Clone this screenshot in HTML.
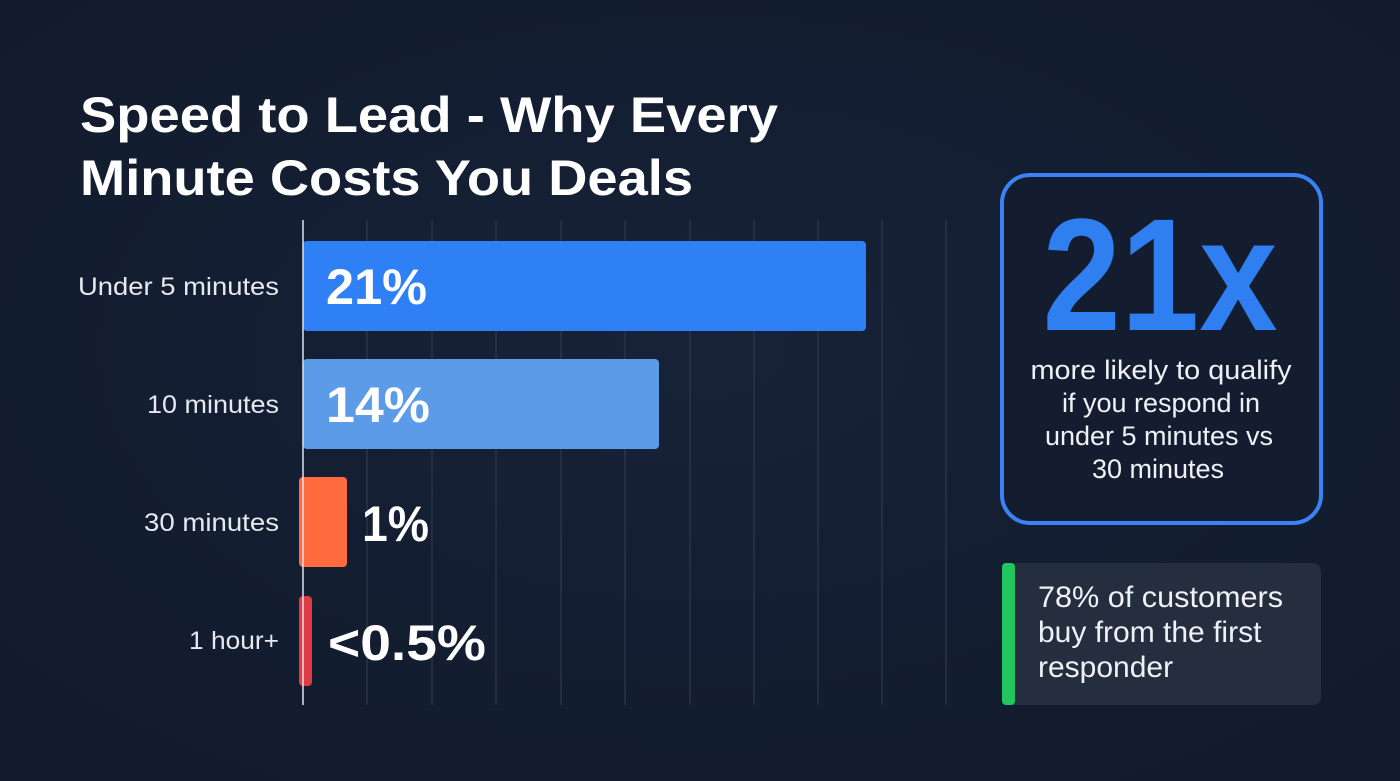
<!DOCTYPE html>
<html><head><meta charset="utf-8"><style>
html,body{margin:0;padding:0;background:#131c2e;}
svg{display:block}
text{font-family:"Liberation Sans",Arial,sans-serif}
</style></head><body>
<svg width="1400" height="781" viewBox="0 0 1400 781" xmlns="http://www.w3.org/2000/svg">
<defs>
<radialGradient id="bg" cx="0.5" cy="0.45" r="0.75">
<stop offset="0" stop-color="#172238"/><stop offset="1" stop-color="#111a2b"/>
</radialGradient>
</defs>
<rect width="1400" height="781" fill="url(#bg)"/>
<text x="80" y="132" font-size="50" font-weight="bold" fill="#fff" textLength="698" lengthAdjust="spacingAndGlyphs">Speed to Lead - Why Every</text>
<text x="80" y="195" font-size="50" font-weight="bold" fill="#fff" textLength="613" lengthAdjust="spacingAndGlyphs">Minute Costs You Deals</text>
<g stroke="#2a3447" stroke-width="1.5">
<line x1="367" y1="220" x2="367" y2="705"/><line x1="432" y1="220" x2="432" y2="705"/>
<line x1="496" y1="220" x2="496" y2="705"/><line x1="561" y1="220" x2="561" y2="705"/>
<line x1="625" y1="220" x2="625" y2="705"/><line x1="690" y1="220" x2="690" y2="705"/>
<line x1="754" y1="220" x2="754" y2="705"/><line x1="818" y1="220" x2="818" y2="705"/>
<line x1="882" y1="220" x2="882" y2="705"/><line x1="946" y1="220" x2="946" y2="705"/>
</g>
<rect x="303" y="241" width="563" height="90" rx="4" fill="#2f80f5"/>
<rect x="303" y="359" width="356" height="90" rx="4" fill="#5c9be8"/>
<rect x="299" y="477" width="48" height="90" rx="4" fill="#ff6b3d"/>
<rect x="299" y="596" width="13" height="90" rx="4" fill="#e03a44"/>
<line x1="303" y1="220" x2="303" y2="705" stroke="#dfe3ea" stroke-width="1.5"/>
<g font-size="25" fill="#e6e9ef" text-anchor="end">
<text x="279" y="295" textLength="201" lengthAdjust="spacingAndGlyphs">Under 5 minutes</text>
<text x="279" y="413" textLength="132" lengthAdjust="spacingAndGlyphs">10 minutes</text>
<text x="279" y="531" textLength="135" lengthAdjust="spacingAndGlyphs">30 minutes</text>
<text x="279" y="649" textLength="90" lengthAdjust="spacingAndGlyphs">1 hour+</text>
</g>
<g font-size="50" font-weight="bold" fill="#fff">
<text x="326" y="304" textLength="101" lengthAdjust="spacingAndGlyphs">21%</text>
<text x="326" y="422" textLength="104" lengthAdjust="spacingAndGlyphs">14%</text>
<text x="362" y="541" textLength="67" lengthAdjust="spacingAndGlyphs">1%</text>
<text x="328" y="660" textLength="158" lengthAdjust="spacingAndGlyphs">&lt;0.5%</text>
</g>
<rect x="1002" y="175" width="319" height="348" rx="28" fill="#141d30" stroke="#3b82f6" stroke-width="4"/>
<text x="1160" y="330" font-size="160" font-weight="bold" fill="#2f7ff0" text-anchor="middle" textLength="235" lengthAdjust="spacingAndGlyphs">21x</text>
<g font-size="27" fill="#eef1f5" text-anchor="middle">
<text x="1161" y="379" textLength="261" lengthAdjust="spacingAndGlyphs">more likely to qualify</text>
<text x="1161" y="412">if you respond in</text>
<text x="1159" y="445">under 5 minutes vs</text>
<text x="1158" y="478">30 minutes</text>
</g>
<rect x="1002" y="563" width="319" height="142" rx="8" fill="#252e3f"/>
<rect x="1002" y="563" width="13" height="142" rx="4" fill="#22c55e"/>
<g font-size="30" fill="#eef1f5">
<text x="1038" y="607" textLength="245" lengthAdjust="spacingAndGlyphs">78% of customers</text>
<text x="1038" y="642">buy from the first</text>
<text x="1038" y="677">responder</text>
</g>
</svg>
</body></html>
